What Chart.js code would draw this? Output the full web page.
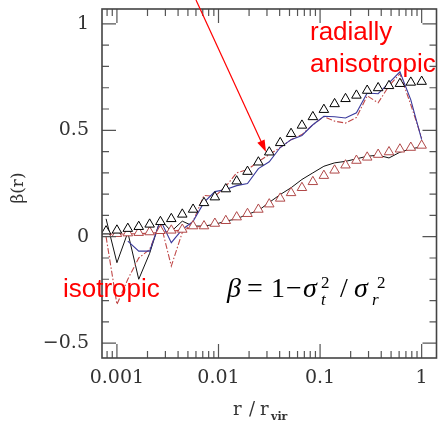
<!DOCTYPE html>
<html>
<head>
<meta charset="utf-8">
<script src="https://cdn.jsdelivr.net/npm/chart.js@4.4.0/dist/chart.umd.min.js"></script>
<style>
  html, body { margin: 0; padding: 0; background: #fff; }
  canvas { display: block; }
</style>
</head>
<body>
<canvas id="beta" width="443" height="421"></canvas>
<script>
// radial bins, r / r_vir
var rBins = [0.000782, 0.001, 0.00128, 0.00164, 0.0021, 0.00268, 0.00343, 0.0044, 0.00562, 0.0072,
             0.00921, 0.0118, 0.0151, 0.0193, 0.0247, 0.0316, 0.0405, 0.0518, 0.0663, 0.0849,
             0.109, 0.139, 0.178, 0.228, 0.291, 0.373, 0.477, 0.611, 0.782, 1.0];

// model profiles (triangles)
var modelHigh = [0.026, 0.030, 0.038, 0.047, 0.058, 0.070, 0.084, 0.105, 0.128, 0.159,
                 0.186, 0.224, 0.261, 0.306, 0.350, 0.397, 0.441, 0.484, 0.523, 0.563,
                 0.597, 0.624, 0.648, 0.664, 0.687, 0.699, 0.709, 0.719, 0.725, 0.729];
var modelLow = [0.014, 0.014, 0.017, 0.019, 0.022, 0.028, 0.030, 0.034, 0.050, 0.050,
                0.062, 0.075, 0.092, 0.108, 0.128, 0.153, 0.180, 0.206, 0.230, 0.258,
                0.287, 0.312, 0.336, 0.358, 0.373, 0.386, 0.398, 0.411, 0.419, 0.429];

// simulation profiles (lines)
var simBlack = [0.084, -0.122, 0.020, -0.200, -0.078, 0.081, 0.025, 0.073, 0.050, 0.050,
                0.058, 0.073, 0.084, 0.105, 0.123, 0.161, 0.198, 0.230, 0.269, 0.300,
                0.331, 0.347, 0.354, 0.366, 0.378, 0.383, 0.370, 0.397, 0.413, 0.422];
var simBlue = [null, null, -0.021, -0.068, -0.068, 0.078, -0.028, 0.034, 0.072, 0.161,
               0.212, 0.222, 0.240, 0.250, 0.320, 0.352, 0.419, 0.456, 0.476, 0.526,
               0.566, 0.564, 0.558, 0.582, 0.675, 0.672, 0.723, 0.775, 0.643, 0.456];
var simRed = [0.000, -0.318, -0.200, -0.100, -0.060, 0.067, -0.138, 0.020, 0.072, 0.194,
              0.190, 0.236, 0.300, 0.315, 0.353, 0.386, 0.419, 0.456, 0.480, 0.526,
              0.564, 0.543, 0.534, 0.560, 0.662, 0.629, 0.709, 0.766, 0.620, 0.465];
var simRedLow = [0.012, 0.012, 0.013, 0.014, 0.016, 0.020, 0.025, 0.032, 0.045, 0.050];

var xTicks = [0.001, 0.01, 0.1, 1];
var yTicks = [-0.5, 0, 0.5, 1];

function pairs(ys) {
  return ys.map(function (v, i) { return { x: rBins[i], y: v }; });
}

// minor ticks
var xMinor = [];
[0.0001, 0.001, 0.01, 0.1, 1].forEach(function (d) {
  for (var k = 2; k <= 9; k++) xMinor.push(k * d);
});
var yMinor = [];
for (var t = -5; t <= 10; t++) yMinor.push(t / 10);

var frame = {
  id: 'frame',
  afterDraw: function (chart) {
    var ctx = chart.ctx, a = chart.chartArea;
    var xs = chart.scales.x, ys = chart.scales.y;
    ctx.save();

    // inward ticks on all four sides
    ctx.strokeStyle = '#555';
    ctx.lineWidth = 1.2;
    ctx.beginPath();
    xMinor.forEach(function (v) {
      var px = xs.getPixelForValue(v);
      if (px <= a.left + 1 || px >= a.right - 1) return;
      ctx.moveTo(px, a.bottom); ctx.lineTo(px, a.bottom - 7);
      ctx.moveTo(px, a.top); ctx.lineTo(px, a.top + 7);
    });
    xTicks.forEach(function (v) {
      var px = xs.getPixelForValue(v);
      ctx.moveTo(px, a.bottom); ctx.lineTo(px, a.bottom - 14);
      ctx.moveTo(px, a.top); ctx.lineTo(px, a.top + 14);
    });
    yMinor.forEach(function (v) {
      var py = ys.getPixelForValue(v);
      var len = (yTicks.indexOf(v) >= 0) ? 14 : 7;
      ctx.moveTo(a.left, py); ctx.lineTo(a.left + len, py);
      ctx.moveTo(a.right, py); ctx.lineTo(a.right - len, py);
    });
    ctx.stroke();

    ctx.strokeStyle = '#444';
    ctx.lineWidth = 1.6;
    ctx.strokeRect(a.left, a.top, a.right - a.left, a.bottom - a.top);

    // axis titles
    ctx.fillStyle = '#333';
    ctx.textBaseline = 'alphabetic';
    ctx.textAlign = 'left';
    ctx.font = '18px "DejaVu Serif"';
    ctx.fillText('r', 233, 415);
    ctx.fillText('/', 249, 415);
    ctx.fillText('r', 260, 415);
    ctx.font = 'bold 11px "DejaVu Serif"';
    ctx.fillText('vir', 271, 420);

    ctx.save();
    ctx.translate(23, 188);
    ctx.rotate(-Math.PI / 2);
    ctx.textAlign = 'center';
    ctx.font = '17px "DejaVu Serif"';
    ctx.fillText('β(r)', 0, 0);
    ctx.restore();

    // red labels
    ctx.fillStyle = '#ff0000';
    ctx.font = '26px "Liberation Sans"';
    ctx.fillText('radially', 310, 40);
    ctx.fillText('anisotropic', 310, 72);
    ctx.fillText('isotropic', 63, 297);

    // arrow
    var x0 = 196, y0 = 0, x1 = 266, y1 = 152;
    var ang = Math.atan2(y1 - y0, x1 - x0);
    ctx.strokeStyle = '#ff0000';
    ctx.lineWidth = 1.2;
    ctx.beginPath();
    ctx.moveTo(x0, y0);
    ctx.lineTo(x1 - 10 * Math.cos(ang), y1 - 10 * Math.sin(ang));
    ctx.stroke();
    ctx.beginPath();
    ctx.moveTo(x1, y1);
    ctx.lineTo(x1 - 12 * Math.cos(ang) + 4 * Math.sin(ang), y1 - 12 * Math.sin(ang) - 4 * Math.cos(ang));
    ctx.lineTo(x1 - 12 * Math.cos(ang) - 4 * Math.sin(ang), y1 - 12 * Math.sin(ang) + 4 * Math.cos(ang));
    ctx.closePath();
    ctx.fillStyle = '#ff0000';
    ctx.fill();

    // formula
    var it = 'italic 28px "Liberation Serif"', up = '28px "Liberation Serif"';
    var sm = '17px "Liberation Serif"', smi = 'italic 17px "Liberation Serif"';
    ctx.fillStyle = '#000';
    function put(s, x, y, f) { ctx.font = f; ctx.fillText(s, x, y); }
    put('β', 227, 297, it);
    put('=', 247, 297, up);
    put('1', 271, 297, up);
    put('−', 286, 297, up);
    put('σ', 303, 297, it);
    put('2', 321, 288, sm);
    put('t', 321, 305, smi);
    put('/', 340, 297, up);
    put('σ', 354, 297, it);
    put('2', 377, 288, sm);
    put('r', 372, 305, smi);

    ctx.restore();
  }
};

new Chart(document.getElementById('beta'), {
  type: 'line',
  data: {
    datasets: [
      {
        data: pairs(modelHigh), showLine: false,
        pointStyle: 'triangle', pointRadius: 5.5, pointBorderWidth: 1,
        pointBorderColor: '#000', pointBackgroundColor: '#fff'
      },
      {
        data: pairs(modelLow), showLine: false,
        pointStyle: 'triangle', pointRadius: 5.5, pointBorderWidth: 1,
        pointBorderColor: '#b04848', pointBackgroundColor: '#fff'
      },
      {
        data: pairs(simBlue), borderColor: '#3a3a9c', borderWidth: 1.1,
        pointRadius: 0, tension: 0
      },
      {
        data: pairs(simRed), borderColor: '#c04848', borderWidth: 1.1,
        borderDash: [6, 2, 1.5, 2], pointRadius: 0, tension: 0
      },
      {
        data: pairs(simRedLow), borderColor: '#c04848', borderWidth: 1.1,
        borderDash: [6, 2, 1.5, 2], pointRadius: 0, tension: 0
      },
      {
        data: pairs(simBlack), borderColor: '#111', borderWidth: 1,
        pointRadius: 0, tension: 0
      }
    ]
  },
  options: {
    responsive: false,
    animation: false,
    devicePixelRatio: 1,
    layout: { padding: { top: 9, right: 4, left: 0, bottom: 0 } },
    plugins: { legend: { display: false }, tooltip: { enabled: false } },
    scales: {
      x: {
        type: 'logarithmic', min: 0.000713, max: 1.40,
        grid: { display: false, drawTicks: false },
        border: { display: false },
        ticks: {
          autoSkip: false, maxRotation: 0, padding: 9, color: '#333',
          font: { family: 'DejaVu Serif', size: 19 },
          callback: function (v) { return String(v); }
        },
        afterBuildTicks: function (s) { s.ticks = xTicks.map(function (v) { return { value: v }; }); },
        afterFit: function (s) { s.height = 63; s.paddingLeft = 0; s.paddingRight = 0; }
      },
      y: {
        type: 'linear', min: -0.57, max: 1.07,
        grid: { display: false, drawTicks: false },
        border: { display: false },
        ticks: {
          padding: 13, color: '#333',
          font: { family: 'DejaVu Serif', size: 19 },
          callback: function (v) { return v < 0 ? '−' + Math.abs(v) : String(v); }
        },
        afterBuildTicks: function (s) { s.ticks = yTicks.map(function (v) { return { value: v }; }); },
        afterFit: function (s) { s.width = 102; s.paddingTop = 0; s.paddingBottom = 0; }
      }
    }
  },
  plugins: [frame]
});
</script>
</body>
</html>
